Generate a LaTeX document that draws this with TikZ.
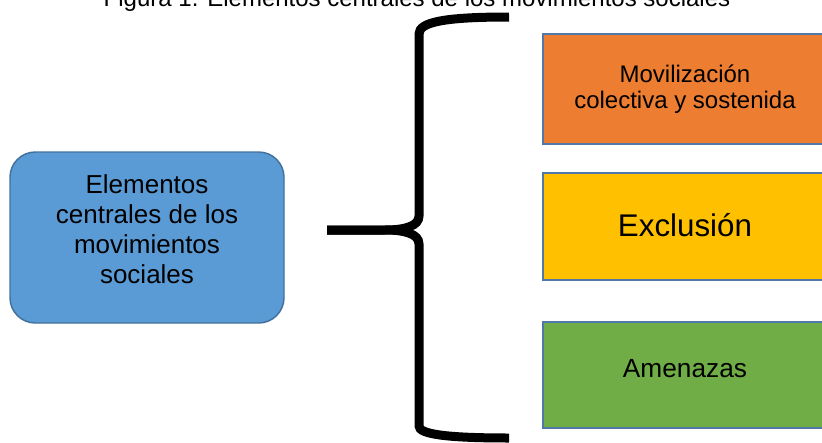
\documentclass[tikz,border=0pt]{standalone}
\usepackage{fontspec}
\setmainfont{Liberation Sans}
\definecolor{azul}{HTML}{5B9BD5}
\definecolor{bordeazul}{HTML}{41719C}
\definecolor{naranja}{HTML}{ED7D31}
\definecolor{amarillo}{HTML}{FFC000}
\definecolor{verde}{HTML}{70AD47}
\definecolor{borde}{HTML}{5079AA}

\begin{document}
\begin{tikzpicture}[x=0.75pt,y=-0.75pt,
    caja/.style={draw=borde,line width=1.1pt,minimum width=213pt,inner sep=0pt,align=center},
    llave/.style={line width=6.75pt,black}]

    \useasboundingbox (0,0) rectangle (822,443);
    \clip (0,0) rectangle (822,443);

    % titulo, cortado arriba
    \node[anchor=base,inner sep=0pt,font=\fontsize{18}{20}\selectfont] (titulo) at (417,6)
        {Figura 1. Elementos centrales de los movimientos sociales};

    % caja principal
    \node[draw=bordeazul,fill=azul,line width=1.1pt,rounded corners=19pt,
          minimum width=205.5pt,minimum height=128.25pt,inner sep=0pt,align=center,
          text depth=12pt,font=\fontsize{19.5}{22.5}\selectfont] (elementos) at (147,237.5)
        {Elementos\\centrales de los\\movimientos\\sociales};

    % las tres cajas
    \node[caja,fill=naranja,minimum height=82.5pt,font=\fontsize{18}{19.5}\selectfont] (movilizacion) at (685,89)
        {Movilizaci\'on\\colectiva y sostenida};
    \node[caja,fill=amarillo,minimum height=80.25pt,text depth=3pt,font=\fontsize{23.5}{26}\selectfont] (exclusion) at (685,226.5)
        {Exclusi\'on};
    \node[caja,fill=verde,minimum height=79.5pt,text depth=10.5pt,font=\fontsize{19.7}{22}\selectfont] (amenazas) at (685,375)
        {Amenazas};

    % llave
    \coordinate (punta) at (327,230);
    \draw[llave] (509,17) .. controls (445,17) and (419,22) .. (419,34) -- (419,216)
        .. controls (419,226) and (405,230) .. (385,230) -- (punta);
    \draw[llave] (punta) -- (385,230) .. controls (405,230) and (419,234) .. (419,244)
        -- (419,426) .. controls (419,434) and (445,438) .. (509,438);

\end{tikzpicture}
\end{document}
